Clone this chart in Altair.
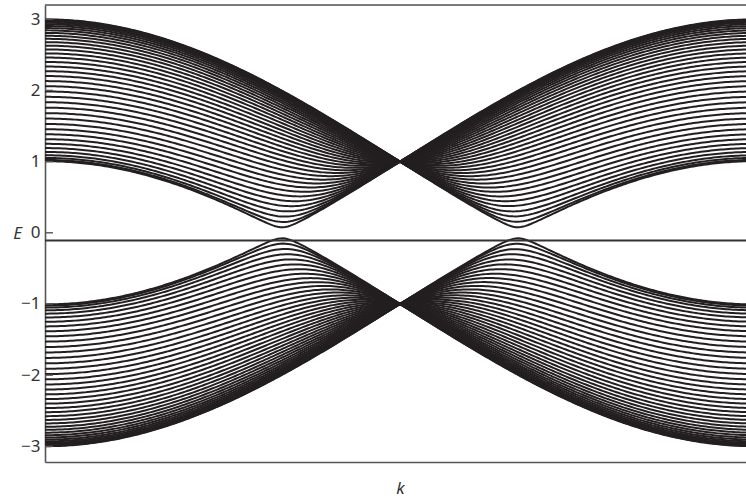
import altair as alt
import numpy as np
import pandas as pd

# Energies of the ribbon sub-bands at the zone edge (k = 0), upper branch
edge_energies = [
    2.998, 2.992, 2.982, 2.969, 2.951, 2.930, 2.905, 2.876, 2.844, 2.808,
    2.768, 2.725, 2.678, 2.629, 2.576, 2.520, 2.462, 2.400, 2.336, 2.270,
    2.202, 2.131, 2.059, 1.985, 1.910, 1.834, 1.758, 1.681, 1.605, 1.529,
    1.455, 1.384, 1.315, 1.250, 1.190, 1.136, 1.089, 1.051, 1.023, 1.006,
]
tick_values = [-3, -2, -1, 0, 1, 2, 3]
flat_band_energy = -0.11

PLOT_W, PLOT_H = 701, 457
K_MAX = 2 * np.pi * 701 / 710
E_DOMAIN = [-3.22, 3.2]

# Each sub-band disperses as E^2 = 1 + 4c^2 + c(E0^2 - 5), c = cos(k/2),
# with E0 its energy at k = 0; the lower branch is the mirror image.
k = np.linspace(0, K_MAX, 281)
c = np.cos(k / 2)
frames = []
for i, e0 in enumerate(edge_energies):
    e = np.sqrt(np.clip(1 + 4 * c**2 + c * (e0**2 - 5), 0, None))
    frames.append(pd.DataFrame({"k": k, "E": e, "band": f"u{i}"}))
    frames.append(pd.DataFrame({"k": k, "E": -e, "band": f"l{i}"}))
bands = pd.concat(frames, ignore_index=True)

ink = "#231f20"
axis_grey = "#555555"
font = "Noto Sans"

x_enc = alt.X(
    "k:Q",
    scale=alt.Scale(domain=[0, K_MAX], nice=False, zero=False),
    axis=alt.Axis(
        labels=False, ticks=False, grid=False, domainColor=axis_grey,
        domainWidth=1.6, title="k", titleFontStyle="italic",
        titleFontWeight="normal", titleFontSize=17, titleFont=font,
        titleColor="#333333", titleX=355, titleY=26, titleBaseline="middle",
    ),
)
y_scale = alt.Scale(domain=E_DOMAIN, nice=False, zero=False)

lines = alt.Chart(bands).mark_line(color=ink, strokeWidth=2.0, clip=True).encode(
    x=x_enc,
    y=alt.Y(
        "E:Q",
        scale=y_scale,
        axis=alt.Axis(
            values=tick_values, format="d", ticks=False, grid=False,
            domainColor=axis_grey, domainWidth=1.6, labelFont=font,
            labelFontSize=17, labelColor="#333333", labelPadding=5,
            title="E", titleFontStyle="italic", titleFontWeight="normal",
            titleFontSize=17, titleFont=font, titleColor="#333333",
            titleAngle=0, titleX=-28, titleY=228, titleBaseline="middle",
            titleAlign="center",
        ),
    ),
    detail="band:N",
)

flat = alt.Chart(pd.DataFrame({"E": [flat_band_energy]})).mark_rule(
    color="#333333", strokeWidth=2
).encode(y=alt.Y("E:Q", scale=y_scale))

# inward tick marks on the energy axis
ticks = alt.Chart(pd.DataFrame({"E": tick_values})).mark_rule(
    color=axis_grey, strokeWidth=1.4
).encode(y=alt.Y("E:Q", scale=y_scale), x=alt.value(0), x2=alt.value(8))

top_line = alt.Chart(pd.DataFrame({"E": [0]})).mark_rule(
    color=axis_grey, strokeWidth=1.6
).encode(y=alt.value(0), x=alt.value(0), x2=alt.value(PLOT_W))

chart = (
    alt.layer(lines, flat, ticks, top_line)
    .properties(
        width=PLOT_W,
        height=PLOT_H,
        autosize=alt.AutoSizeParams(type="none"),
        padding={"left": 45, "top": 5, "right": 0, "bottom": 38},
    )
    .configure_view(stroke=None)
    .configure(background="white")
)

chart.save("out.html", embed_options={"renderer": "svg", "actions": False})
